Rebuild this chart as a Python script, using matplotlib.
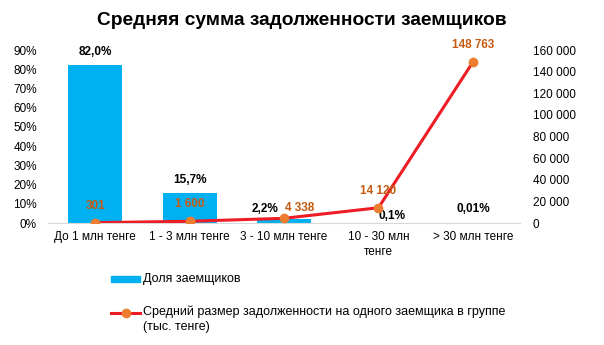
import matplotlib.pyplot as plt
import matplotlib.lines as mlines
import matplotlib.patches as mpatches
from matplotlib.ticker import FuncFormatter, MultipleLocator

plt.rcParams['font.family'] = ['Liberation Sans', 'DejaVu Sans']

# группы заемщиков по сумме задолженности
groups = ['До 1 млн тенге', '1 - 3 млн тенге', '3 - 10 млн тенге',
          '10 - 30 млн\nтенге', '> 30 млн тенге']
share = [82.0, 15.7, 2.2, 0.1, 0.01]          # доля заемщиков, %
share_labels = ['82,0%', '15,7%', '2,2%', '0,1%', '0,01%']
avg_debt = [301, 1600, 4338, 14120, 148763]   # тыс. тенге

# смещения подписей (в пунктах)
share_off = [(0, 5), (0, 5), (-14, 2.5), (9.5, 0.5), (0, 5.5)]
debt_off = [(0, 8), (0, 8), (11, 3), (0, 7.5), (0, 8)]

blue = '#00B0F0'
red = '#EE1C25'
orange = '#ED7D31'
brown = '#C55A11'
fs = 8.5

fig = plt.figure(figsize=(6.04, 3.45), dpi=100)
ax = fig.add_axes([0.0795, 0.3536, 0.7815, 0.5014])
ax2 = ax.twinx()

x = range(len(groups))
ax.bar(x, share, width=0.57, color=blue, zorder=2)
for i, v in enumerate(share):
    ax.annotate(share_labels[i], (i, v), xytext=share_off[i], textcoords='offset points',
                ha='center', va='bottom', fontsize=fs, fontweight='bold', color='black')

ax2.plot(x, avg_debt, color=red, lw=2.2, marker='o', markersize=6,
         markerfacecolor=orange, markeredgecolor=orange, zorder=3)
for i, v in enumerate(avg_debt):
    txt = f'{v:,}'.replace(',', ' ')
    ax2.annotate(txt, (i, v), xytext=debt_off[i], textcoords='offset points',
                 ha='center', va='bottom', fontsize=fs, fontweight='bold', color=brown)

ax.set_xlim(-0.5, 4.5)
ax.set_ylim(0, 90)
ax2.set_ylim(0, 160000)
ax.yaxis.set_major_locator(MultipleLocator(10))
ax2.yaxis.set_major_locator(MultipleLocator(20000))
ax.yaxis.set_major_formatter(FuncFormatter(lambda v, p: f'{v:.0f}%'))
ax2.yaxis.set_major_formatter(FuncFormatter(lambda v, p: f'{v:,.0f}'.replace(',', ' ')))

ax.set_xticks(list(x))
ax.set_xticklabels(groups, fontsize=fs, linespacing=1.35)
for a in (ax, ax2):
    for s in a.spines.values():
        s.set_visible(False)
    a.tick_params(length=0, labelsize=fs)
ax.spines['bottom'].set_visible(True)
ax.spines['bottom'].set_color('#D9D9D9')
ax.tick_params(axis='x', pad=6)
ax.tick_params(axis='y', pad=8)
ax2.tick_params(axis='y', pad=9)

fig.text(0.5, 0.94, 'Средняя сумма задолженности заемщиков', ha='center', va='center',
         fontsize=13.8, fontweight='bold')

# легенда
fig.add_artist(mpatches.Rectangle((111 / 604, 1 - 282 / 345), 29 / 604, 6 / 345,
                                  transform=fig.transFigure, color=blue))
fig.text(143 / 604, 1 - 279 / 345, 'Доля заемщиков', va='center', fontsize=9)
fig.add_artist(mlines.Line2D([111 / 604, 140 / 604], [1 - 313 / 345] * 2, color=red, lw=2.2,
                             transform=fig.transFigure))
fig.add_artist(mlines.Line2D([125.5 / 604], [1 - 313 / 345], marker='o', markersize=6,
                             color=orange, transform=fig.transFigure))
fig.text(143 / 604, 1 - 305 / 345,
         'Средний размер задолженности на одного заемщика в группе\n(тыс. тенге)',
         va='top', fontsize=9, linespacing=1.4)

fig.savefig('out.png', dpi=100)
